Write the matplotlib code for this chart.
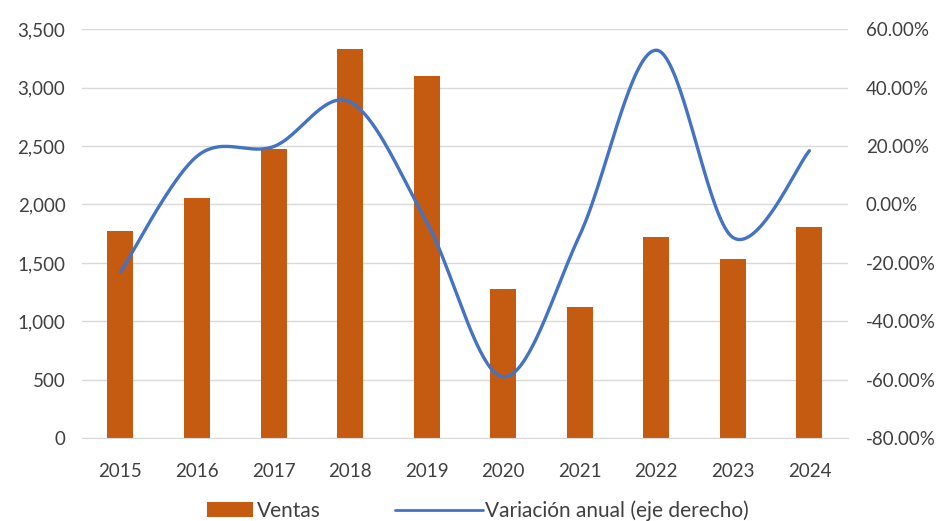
import numpy as np
import matplotlib.pyplot as plt
from matplotlib.ticker import FuncFormatter, FixedLocator

# Ventas anuales y variación anual (%)
years = ['2015', '2016', '2017', '2018', '2019', '2020', '2021', '2022', '2023', '2024']
ventas = [1773, 2058, 2475, 3329, 3100, 1273, 1125, 1719, 1533, 1810]
variacion = [-23.2, 16.5, 19.8, 35.1, -6.0, -59.0, -10.5, 52.8, -11.3, 18.4]

bar_color = '#C55A11'
line_color = '#4472C4'
text_color = '#404040'
grid_color = '#D9D9D9'

plt.rcParams['font.family'] = ['Lato', 'DejaVu Sans']


def catmull_rom(x, y, n=40):
    # curva suavizada que pasa por todos los puntos
    x = np.asarray(x, float)
    y = np.asarray(y, float)
    px = np.concatenate([[x[0]], x, [x[-1]]])
    py = np.concatenate([[y[0]], y, [y[-1]]])
    xs, ys = [], []
    for i in range(1, len(px) - 2):
        t = np.linspace(0, 1, n)
        for p, out in ((px, xs), (py, ys)):
            p0, p1, p2, p3 = p[i - 1], p[i], p[i + 1], p[i + 2]
            out.extend(0.5 * ((2 * p1) + (-p0 + p2) * t
                              + (2 * p0 - 5 * p1 + 4 * p2 - p3) * t ** 2
                              + (-p0 + 3 * p1 - 3 * p2 + p3) * t ** 3))
    return np.array(xs), np.array(ys)


fig = plt.figure(figsize=(9.44, 5.21), dpi=100)
ax = fig.add_axes([0.087, 0.159, 0.811, 0.785])
x = np.arange(len(years))

bars = ax.bar(x, ventas, width=0.34, color=bar_color, label='Ventas', zorder=2)
ax.set_ylim(0, 3500)
ax.set_xlim(-0.5, len(years) - 0.5)
ax.yaxis.set_major_locator(FixedLocator(np.arange(0, 3501, 500)))
ax.yaxis.set_major_formatter(FuncFormatter(lambda v, p: f'{v:,.0f}'))
ax.set_xticks(x)
ax.set_xticklabels(years)
ax.grid(axis='y', color=grid_color, linewidth=1, zorder=0)
ax.set_axisbelow(True)
for s in ['top', 'right', 'left']:
    ax.spines[s].set_visible(False)
ax.spines['bottom'].set_color(grid_color)
ax.tick_params(axis='both', length=0, labelsize=13.5, colors=text_color)
ax.tick_params(axis='y', pad=12)
ax.tick_params(axis='x', pad=18)

ax2 = ax.twinx()
sx, sy = catmull_rom(x, variacion)
line, = ax2.plot(sx, sy, color=line_color, linewidth=2.4, solid_capstyle='round',
                 label='Variación anual (eje derecho)', zorder=3)
ax2.set_ylim(-80, 60)
ax2.yaxis.set_major_locator(FixedLocator(np.arange(-80, 61, 20)))
ax2.yaxis.set_major_formatter(FuncFormatter(lambda v, p: f'{v:.2f}%'))
for s in ['top', 'right', 'left', 'bottom']:
    ax2.spines[s].set_visible(False)
ax2.tick_params(axis='y', length=0, labelsize=13.5, colors=text_color, pad=13)

# leyenda inferior, cada entrada con su propio largo de muestra
leg1 = fig.legend([bars], ['Ventas'], loc='center left',
                  bbox_to_anchor=(207 / 944, 0.019), frameon=False,
                  fontsize=15, labelcolor=text_color, borderpad=0,
                  borderaxespad=0, handlelength=2.2, handleheight=0.75,
                  handletextpad=0.2)
leg2 = fig.legend([line], ['Variación anual (eje derecho)'], loc='center left',
                  bbox_to_anchor=(395 / 944, 0.019), frameon=False,
                  fontsize=15, labelcolor=text_color, borderpad=0,
                  borderaxespad=0, handlelength=4.2, handletextpad=0.1)
leg2.get_lines()[0].set_linewidth(2.0)

fig.savefig('out.png', dpi=100)
